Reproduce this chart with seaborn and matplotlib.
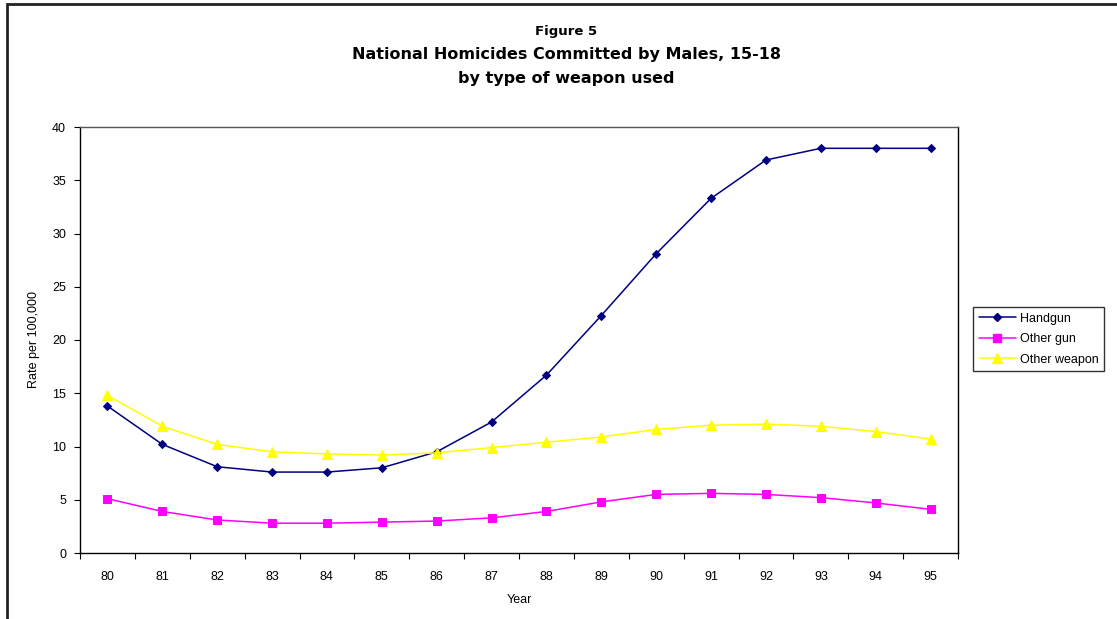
import numpy as np
import pandas as pd
import seaborn as sns
import matplotlib
matplotlib.use("Agg")
import matplotlib.pyplot as plt
from matplotlib.patches import Rectangle
from matplotlib.lines import Line2D

years = ["80", "81", "82", "83", "84", "85", "86", "87",
         "88", "89", "90", "91", "92", "93", "94", "95"]
handgun = [13.8, 10.2, 8.1, 7.6, 7.6, 8.0, 9.5, 12.3,
           16.7, 22.3, 28.1, 33.3, 36.9, 38.0, 38.0, 38.0]
other_gun = [5.1, 3.9, 3.1, 2.8, 2.8, 2.9, 3.0, 3.3,
             3.9, 4.8, 5.5, 5.6, 5.5, 5.2, 4.7, 4.1]
other_weapon = [14.8, 11.9, 10.2, 9.5, 9.3, 9.2, 9.4, 9.9,
                10.4, 10.9, 11.6, 12.0, 12.1, 11.9, 11.4, 10.7]

series_names = ["Handgun", "Other gun", "Other weapon"]
series_values = [handgun, other_gun, other_weapon]
colors = {"Handgun": "#000080", "Other gun": "#FF00FF", "Other weapon": "#FFFF00"}
markers = {"Handgun": "D", "Other gun": "s", "Other weapon": "^"}
msizes = {"Handgun": 4.5, "Other gun": 6.0, "Other weapon": 6.5}

df = pd.DataFrame({
    "pos": np.tile(np.arange(len(years)), len(series_names)),
    "Year": years * len(series_names),
    "rate": np.concatenate(series_values),
    "weapon": np.repeat(series_names, len(years)),
})

sns.set_theme(style="white")
plt.rcParams["font.family"] = ["Liberation Sans", "DejaVu Sans"]
plt.rcParams["text.color"] = "black"

fig = plt.figure(figsize=(11.17, 6.19), dpi=100)
ax = fig.add_axes([80 / 1117, 66 / 619, 878 / 1117, 426 / 619])

for name in series_names:
    sub = df[df["weapon"] == name]
    sns.lineplot(data=sub, x="pos", y="rate", color=colors[name], lw=1.1,
                 marker=markers[name], markersize=msizes[name],
                 markerfacecolor=colors[name], markeredgecolor=colors[name],
                 ax=ax, legend=False)

ax.set_xlim(-0.5, len(years) - 0.5)
ax.set_ylim(0, 40)
ax.set_yticks(np.arange(0, 41, 5))
ax.set_xticks(np.arange(len(years)))
ax.set_xticklabels(years)
ax.set_xticks(np.arange(-0.5, len(years)), minor=True)
ax.tick_params(axis="x", which="major", length=0, pad=13, labelsize=9, colors="black")
ax.tick_params(axis="x", which="minor", length=4, width=0.8, direction="out",
               bottom=True, color="black")
ax.tick_params(axis="y", which="major", length=4, width=0.8, direction="out",
               left=True, pad=6, labelsize=9, colors="black")

for side in ["left", "bottom", "right"]:
    ax.spines[side].set_color("black")
    ax.spines[side].set_linewidth(1.0)
ax.spines["top"].set_color("#555555")
ax.spines["top"].set_linewidth(1.0)

ax.set_xlabel("Year", fontsize=9, labelpad=8, color="black")
ax.set_ylabel("Rate per 100,000", fontsize=9, labelpad=9, color="black")

fig.text(566 / 1117, 1 - 32 / 619, "Figure 5", ha="center", va="center",
         fontsize=9.5, fontweight="bold", family="DejaVu Sans", color="black")
fig.text(566 / 1117, 1 - 55 / 619, "National Homicides Committed by Males, 15-18",
         ha="center", va="center", fontsize=11.5, fontweight="bold",
         family="DejaVu Sans", color="black")
fig.text(566 / 1117, 1 - 78 / 619, "by type of weapon used", ha="center", va="center",
         fontsize=11.5, fontweight="bold", family="DejaVu Sans", color="black")

handles = [Line2D([0], [0], color=colors[n], lw=1.1, marker=markers[n],
                  markersize=msizes[n], markerfacecolor=colors[n],
                  markeredgecolor=colors[n])
           for n in series_names]
leg = fig.legend(handles, series_names, loc="upper left",
                 bbox_to_anchor=(973 / 1117, 1 - 307 / 619), frameon=True,
                 fancybox=False, edgecolor="black", fontsize=9, handlelength=3.0,
                 handletextpad=0.3, labelspacing=0.68, borderpad=0.45,
                 borderaxespad=0)
leg.get_frame().set_linewidth(1.0)
for t in leg.get_texts():
    t.set_color("black")

# outer chart border
fig.add_artist(Rectangle((7 / 1117, -0.05), 1.2, 1 - 4 / 619 + 0.05,
                         transform=fig.transFigure, fill=False,
                         edgecolor="#222222", lw=2.0, clip_on=False))

fig.savefig("out.png", dpi=100)
